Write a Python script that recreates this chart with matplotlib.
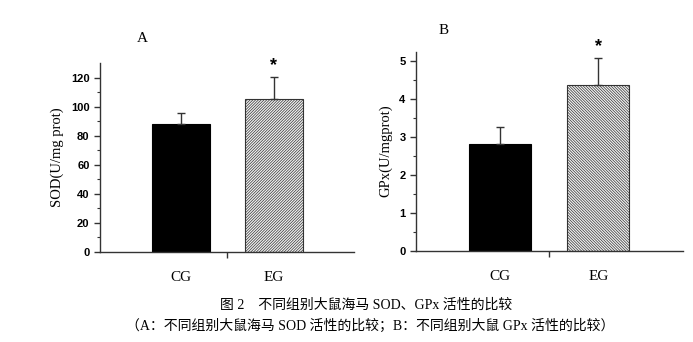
import matplotlib.pyplot as plt
import numpy as np

plt.rcParams['font.family'] = ['Liberation Serif', 'Noto Sans CJK SC']

groups = ['CG', 'EG']
sod_mean = [88, 105]
sod_err = [7.5, 15.5]
gpx_mean = [2.82, 4.36]
gpx_err = [0.43, 0.73]

fig = plt.figure(figsize=(6.93, 3.42), dpi=100)
axA = fig.add_axes([0.1443, 0.2632, 0.3665, 0.5526])
axB = fig.add_axes([0.6003, 0.267, 0.3853, 0.582])


def draw(ax, mean, err, hatch, ylim, major, minor, ylabel, xlim, width):
    x = np.arange(1, len(mean) + 1)
    ax.bar(x[0], mean[0], width=width, color='black', edgecolor='black', lw=0.8, zorder=2)
    ax.bar(x[1], mean[1], width=width, color='#f2f2f2', edgecolor='#333333',
           hatch=hatch, lw=0.8, zorder=2)
    ax.errorbar(x, mean, yerr=[[0] * len(err), err], fmt='none', ecolor='#333333',
                elinewidth=1, capsize=3, capthick=1, zorder=3)
    for xi, m, e in zip(x[1:], mean[1:], err[1:]):
        ax.annotate('*', (xi, m + e), xytext=(0, 2), textcoords='offset points',
                    ha='center', va='bottom', fontsize=13, fontweight='bold',
                    family='Liberation Sans', annotation_clip=False)
    ax.set_ylim(*ylim)
    ax.set_xlim(*xlim)
    ax.set_yticks(np.arange(0, ylim[1], major))
    ax.set_yticks(np.arange(0, ylim[1], minor), minor=True)
    ax.set_xticks(x)
    ax.set_xticklabels(groups, fontsize=11)
    ax.set_xticks([1.5], minor=True)
    ax.tick_params(axis='x', which='major', length=0, pad=14)
    ax.tick_params(axis='x', which='minor', length=4, width=1, direction='out', color='#333333')
    ax.tick_params(axis='y', which='major', length=4, width=1, direction='out',
                   labelsize=8, color='#333333')
    ax.tick_params(axis='y', which='minor', length=2, width=0.8, direction='out', color='#333333')
    for lab in ax.get_yticklabels():
        lab.set_fontweight('bold')
        lab.set_family('Liberation Sans')
    for s in ['top', 'right']:
        ax.spines[s].set_visible(False)
    for s in ['left', 'bottom']:
        ax.spines[s].set_linewidth(1)
        ax.spines[s].set_color('#333333')
    ax.set_ylabel(ylabel, fontsize=10.5, labelpad=5)


plt.rcParams['hatch.color'] = '#808080'
plt.rcParams['hatch.linewidth'] = 0.5
draw(axA, sod_mean, sod_err, '/' * 12, (0, 130), 20, 10, 'SOD(U/mg prot)', (0.13, 2.86), 0.62)
draw(axB, gpx_mean, gpx_err, '\\' * 12, (0, 5.25), 1, 0.5, 'GPx(U/mgprot)', (0.15, 2.86), 0.63)

fig.text(142 / 693, 1 - 38 / 342, 'A', fontsize=11, ha='center', va='center')
fig.text(444 / 693, 1 - 30 / 342, 'B', fontsize=11, ha='center', va='center')

fig.text(366 / 693, 1 - 305 / 342, '图 2　不同组别大鼠海马 SOD、GPx 活性的比较',
         fontsize=10, ha='center', va='center')
fig.text(370 / 693, 1 - 326 / 342, '（A：不同组别大鼠海马 SOD 活性的比较；B：不同组别大鼠 GPx 活性的比较）',
         fontsize=10, ha='center', va='center')

fig.savefig('out.png', dpi=100, facecolor='white')
